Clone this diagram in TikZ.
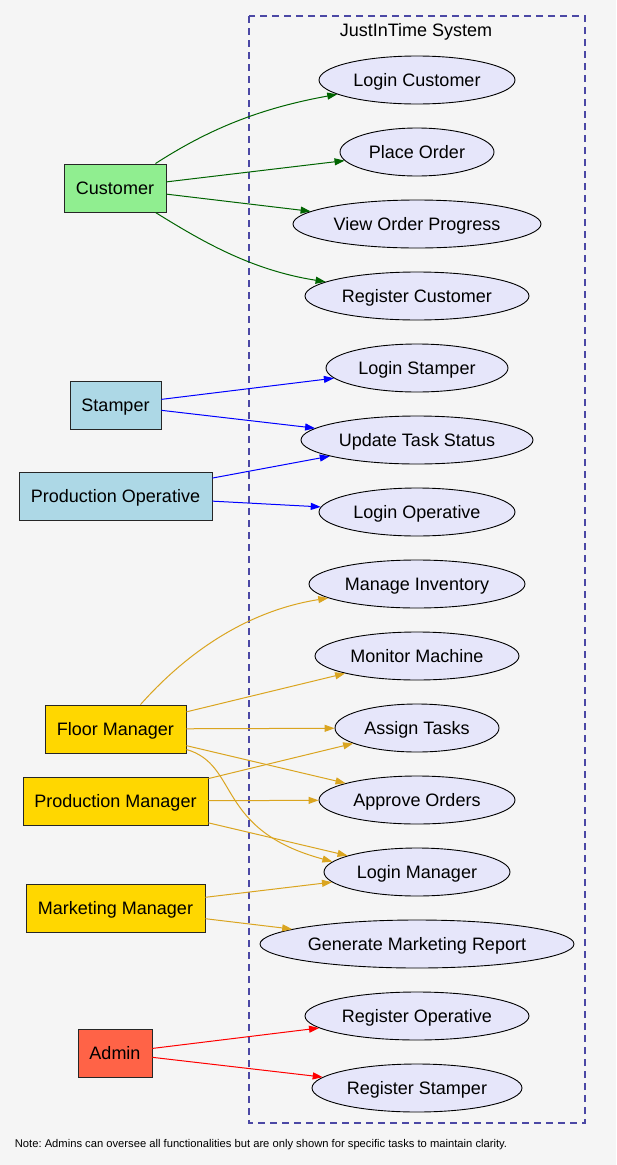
\documentclass[tikz,border=0pt]{standalone}
\usepackage{fontspec}
\setmainfont{Liberation Sans}
\usetikzlibrary{shapes.geometric,arrows.meta}
\frenchspacing
\definecolor{bg}{HTML}{F5F5F5}
\definecolor{lav}{HTML}{E6E6FA}
\definecolor{clus}{RGB}{75,72,165}
\definecolor{cgreen}{HTML}{90EE90}
\definecolor{cblue}{HTML}{ADD8E6}
\definecolor{cgold}{HTML}{FFD700}
\definecolor{ctomato}{HTML}{FF6347}
\definecolor{egreen}{HTML}{006400}
\definecolor{eblue}{HTML}{0000FF}
\definecolor{egold}{HTML}{DAA520}
\definecolor{ered}{HTML}{FF0000}
\begin{document}
\begin{tikzpicture}[x=1pt,y=-1pt,
  font=\fontsize{18}{21}\selectfont,
  txt/.style={text height=16pt,text depth=3pt},
  uc/.style={ellipse,draw=black,line width=0.9pt,fill=lav,minimum height=48pt,inner sep=0pt,txt},
  actor/.style={rectangle,draw=black!85,line width=0.9pt,minimum height=48pt,inner sep=0pt,txt},
  edge/.style={line width=1pt,-{Triangle[length=10pt,width=7pt]}},
  ge/.style={edge,draw=egreen},
  be/.style={edge,draw=eblue},
  ye/.style={edge,draw=egold},
  re/.style={edge,draw=ered}]
\fill[bg] (0,0) rectangle (616,1165);
\useasboundingbox (0,0) rectangle (616,1165);
\draw[clus,line width=1.2pt,dash pattern=on 7pt off 5pt] (249,16) rectangle (585,1123);
\node[txt] (title) at (416,30) {JustInTime System};
% use cases
\node[uc,minimum width=196pt] (lc) at (417,80) {Login Customer};
\node[uc,minimum width=154pt] (po) at (417,152) {Place Order};
\node[uc,minimum width=248pt] (vop) at (417,224) {View Order Progress};
\node[uc,minimum width=224pt] (rc) at (417,296) {Register Customer};
\node[uc,minimum width=182pt] (ls) at (417,368) {Login Stamper};
\node[uc,minimum width=232pt] (uts) at (417,440) {Update Task Status};
\node[uc,minimum width=196pt] (lo) at (417,512) {Login Operative};
\node[uc,minimum width=216pt] (mi) at (417,584) {Manage Inventory};
\node[uc,minimum width=204pt] (mm) at (417,656) {Monitor Machine};
\node[uc,minimum width=164pt] (at) at (417,728) {Assign Tasks};
\node[uc,minimum width=196pt] (ao) at (417,800) {Approve Orders};
\node[uc,minimum width=186pt] (lm) at (417,872) {Login Manager};
\node[uc,minimum width=314pt] (gmr) at (417,944) {Generate Marketing Report};
\node[uc,minimum width=224pt] (ro) at (417,1016) {Register Operative};
\node[uc,minimum width=210pt] (rs) at (417,1088) {Register Stamper};
% actors
\node[actor,fill=cgreen,minimum width=102pt] (cust) at (115,188) {Customer};
\node[actor,fill=cblue,minimum width=91pt] (stamp) at (115.5,405) {Stamper};
\node[actor,fill=cblue,minimum width=193pt] (pop) at (115.5,496) {Production Operative};
\node[actor,fill=cgold,minimum width=141pt] (fm) at (115.5,729) {Floor Manager};
\node[actor,fill=cgold,minimum width=185pt] (pm) at (115.5,801) {Production Manager};
\node[actor,fill=cgold,minimum width=179pt] (mkm) at (115.5,908) {Marketing Manager};
\node[actor,fill=ctomato,minimum width=74pt] (adm) at (115,1053) {Admin};
% customer edges
\draw[ge] (cust.north east) ++(-11,0) .. controls (200,135) and (250,110) .. (lc);
\draw[ge] (cust) -- (po);
\draw[ge] (cust) -- (vop);
\draw[ge] (cust.south east) ++(-11,0) .. controls (200,240) and (250,270) .. (rc);
% stamper / operative
\draw[be] (stamp) -- (ls);
\draw[be] (stamp) -- (uts);
\draw[be] (pop) -- (uts);
\draw[be] (pop) -- (lo);
% floor manager
\draw[ye] (fm.north) ++(25,0) .. controls (180,660) and (240,612) .. (mi);
\draw[ye] (fm) -- (mm);
\draw[ye] (fm) -- (at);
\draw[ye] (fm) -- (ao);
\draw[ye] (fm.south east) ++(0,-4) .. controls (240,765) and (215,830) .. (lm.173);
% production manager
\draw[ye] (pm) -- (at);
\draw[ye] (pm) -- (ao);
\draw[ye] (pm) -- (lm);
% marketing manager
\draw[ye] (mkm) -- (lm);
\draw[ye] (mkm) -- (gmr);
% admin
\draw[re] (adm) -- (ro);
\draw[re] (adm) -- (rs);
\node[font=\fontsize{11.2}{13}\selectfont] (note) at (261,1145) {Note: Admins can oversee all functionalities but are only shown for specific tasks to maintain clarity.};
\end{tikzpicture}
\end{document}
